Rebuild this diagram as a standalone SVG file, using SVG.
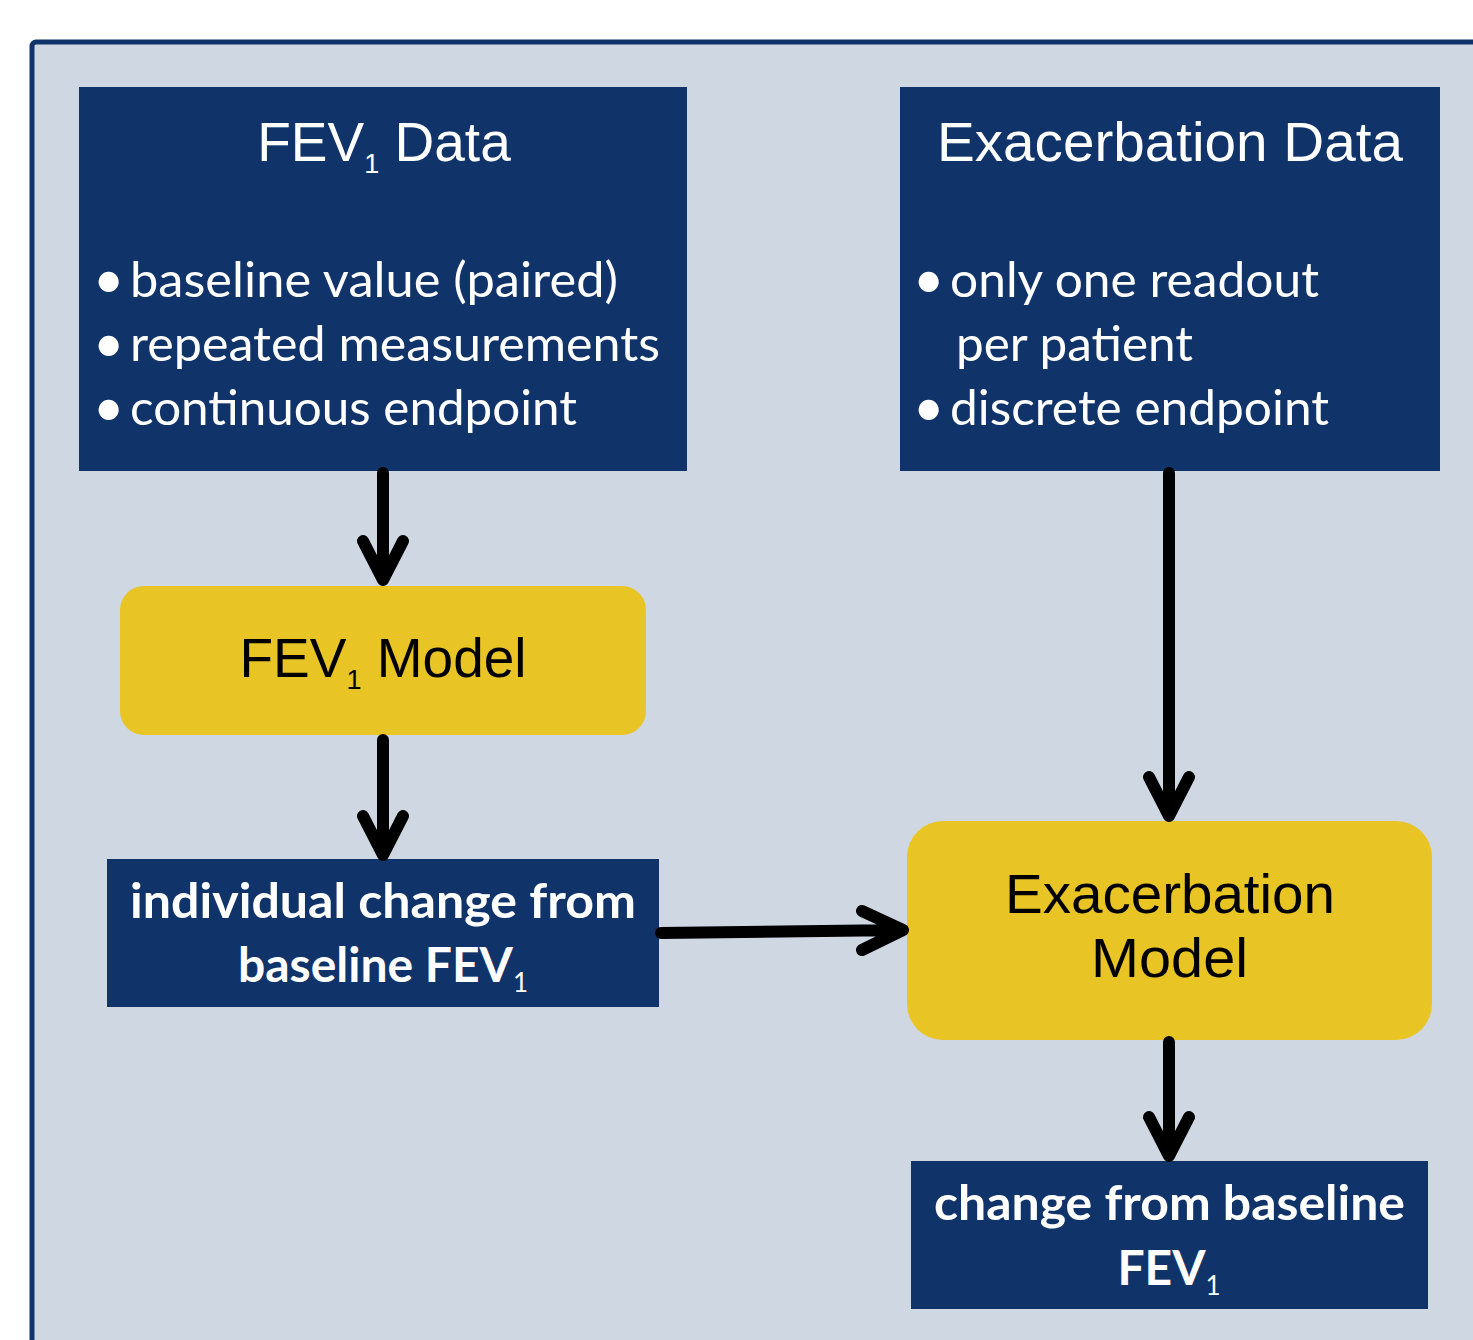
<svg xmlns="http://www.w3.org/2000/svg" width="1473" height="1340" viewBox="0 0 1473 1340">
<style>
.panel{fill:#CFD8E2;stroke:#10346A;stroke-width:5}
.dark{fill:#10346A}
.gold{fill:#E8C425}
.title{font-family:"Liberation Sans",Arial,sans-serif;font-size:55px;fill:#FFFFFF}
.mtitle{font-family:"Liberation Sans",Arial,sans-serif;font-size:55px;fill:#000000}
.bul{font-family:Lato,"Open Sans",sans-serif;font-size:49px;fill:#FFFFFF}
.dot{font-family:Lato,"Open Sans",sans-serif;font-size:54px;fill:#FFFFFF}
.bold{font-family:Lato,"Open Sans",sans-serif;font-size:48px;font-weight:bold;fill:#FFFFFF}
.arr{fill:none;stroke:#000;stroke-width:12;stroke-linecap:round;stroke-linejoin:round}
</style>
<rect x="0" y="0" width="1473" height="1340" fill="#FFFFFF"/>
<rect class="panel" x="32" y="42" width="1460" height="1320" rx="4"/>

<g id="fev1-data">
<rect class="dark" x="79" y="87" width="608" height="384"/>
<text class="title" x="384" y="161" text-anchor="middle">FEV<tspan font-size="27" dy="12">1</tspan><tspan dy="-12"> Data</tspan></text>
<text class="dot" x="93" y="298">•</text>
<text class="bul" x="130" y="297" textLength="488" lengthAdjust="spacingAndGlyphs">baseline value (paired)</text>
<text class="dot" x="93" y="362">•</text>
<text class="bul" x="130" y="361" textLength="530" lengthAdjust="spacingAndGlyphs">repeated measurements</text>
<text class="dot" x="93" y="426">•</text>
<text class="bul" x="130" y="425" textLength="447" lengthAdjust="spacingAndGlyphs">continuous endpoint</text>
</g>

<g id="exacerbation-data">
<rect class="dark" x="900" y="87" width="540" height="384"/>
<text class="title" x="937" y="161" textLength="466" lengthAdjust="spacingAndGlyphs">Exacerbation Data</text>
<text class="dot" x="913" y="298">•</text>
<text class="bul" x="950" y="297" textLength="369" lengthAdjust="spacingAndGlyphs">only one readout</text>
<text class="bul" x="956" y="361" textLength="237" lengthAdjust="spacingAndGlyphs">per patient</text>
<text class="dot" x="913" y="426">•</text>
<text class="bul" x="950" y="425" textLength="379" lengthAdjust="spacingAndGlyphs">discrete endpoint</text>
</g>

<g id="fev1-model">
<rect class="gold" x="120" y="586" width="526" height="149" rx="24"/>
<text class="mtitle" x="383" y="677" text-anchor="middle">FEV<tspan font-size="27" dy="12">1</tspan><tspan dy="-12"> Model</tspan></text>
</g>

<g id="individual-change">
<rect class="dark" x="107" y="859" width="552" height="148"/>
<text class="bold" x="130" y="918" textLength="506" lengthAdjust="spacingAndGlyphs">individual change from</text>
<text class="bold" x="383" y="982" text-anchor="middle">baseline FEV<tspan font-size="26" font-weight="normal" dy="10">1</tspan></text>
</g>

<g id="exacerbation-model">
<rect class="gold" x="907" y="821" width="525" height="219" rx="36"/>
<text class="mtitle" x="1005" y="913" textLength="330" lengthAdjust="spacingAndGlyphs">Exacerbation</text>
<text class="mtitle" x="1091" y="977" textLength="157" lengthAdjust="spacingAndGlyphs">Model</text>
</g>

<g id="change-from-baseline">
<rect class="dark" x="911" y="1161" width="517" height="148"/>
<text class="bold" x="934" y="1220" textLength="471" lengthAdjust="spacingAndGlyphs">change from baseline</text>
<text class="bold" x="1169" y="1285" text-anchor="middle">FEV<tspan font-size="26" font-weight="normal" dy="10">1</tspan></text>
</g>

<g id="connectors">
<path class="arr" d="M383 473 V580 M363 541 L383 580 L403 541"/>
<path class="arr" d="M383 740 V855 M363 816 L383 855 L403 816"/>
<path class="arr" d="M1169 473 V816 M1149 777 L1169 816 L1189 777"/>
<path class="arr" d="M661 933 L903 930 M862 911 L903 930 L862 950"/>
<path class="arr" d="M1169 1042 V1156 M1149 1117 L1169 1156 L1189 1117"/>
</g>
</svg>
